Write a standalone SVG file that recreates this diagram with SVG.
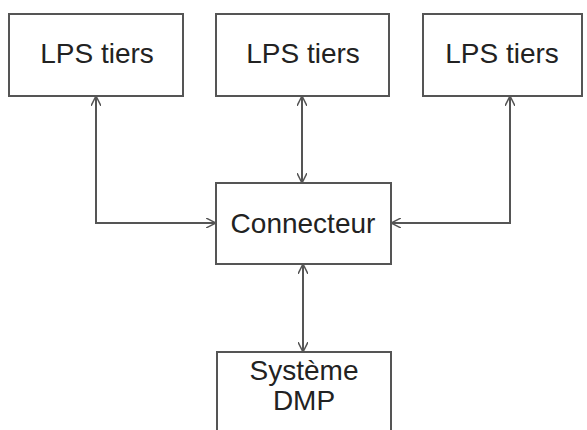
<svg xmlns="http://www.w3.org/2000/svg" width="587" height="430" viewBox="0 0 587 430">
<style>
.box{fill:#fff;stroke:#555;stroke-width:2}
.t{font-family:"Liberation Sans",Arial,sans-serif;font-size:28px;fill:#222;text-anchor:middle}
.c{fill:none;stroke:#555;stroke-width:2}
</style>
<defs>
<marker id="a" viewBox="0 0 10 10" refX="10" refY="5" markerWidth="10" markerHeight="10" markerUnits="userSpaceOnUse" orient="auto-start-reverse">
<path d="M0,0 L10,5 L0,10" fill="none" stroke="#555" stroke-width="1.5"/>
</marker>
</defs>
<rect width="587" height="430" fill="#fff"/>
<g id="connectors">
<path class="c" d="M96,96 V223 H216" marker-start="url(#a)" marker-end="url(#a)"/>
<path class="c" d="M302,96 V183" marker-start="url(#a)" marker-end="url(#a)"/>
<path class="c" d="M510,96 V223 H391" marker-start="url(#a)" marker-end="url(#a)"/>
<path class="c" d="M303,264 V352" marker-start="url(#a)" marker-end="url(#a)"/>
</g>
<g id="lps1"><rect class="box" x="9" y="14" width="174" height="82"/><text class="t" x="97" y="63">LPS tiers</text></g>
<g id="lps2"><rect class="box" x="216" y="14" width="173" height="82"/><text class="t" x="303" y="63">LPS tiers</text></g>
<g id="lps3"><rect class="box" x="423" y="14" width="159" height="82"/><text class="t" x="502" y="63">LPS tiers</text></g>
<g id="connecteur"><rect class="box" x="216" y="183" width="175" height="81"/><text class="t" x="303" y="233">Connecteur</text></g>
<g id="dmp"><rect class="box" x="217" y="352" width="174" height="90"/><text class="t" x="304" y="380">Système</text><text class="t" x="304" y="410">DMP</text></g>
</svg>
